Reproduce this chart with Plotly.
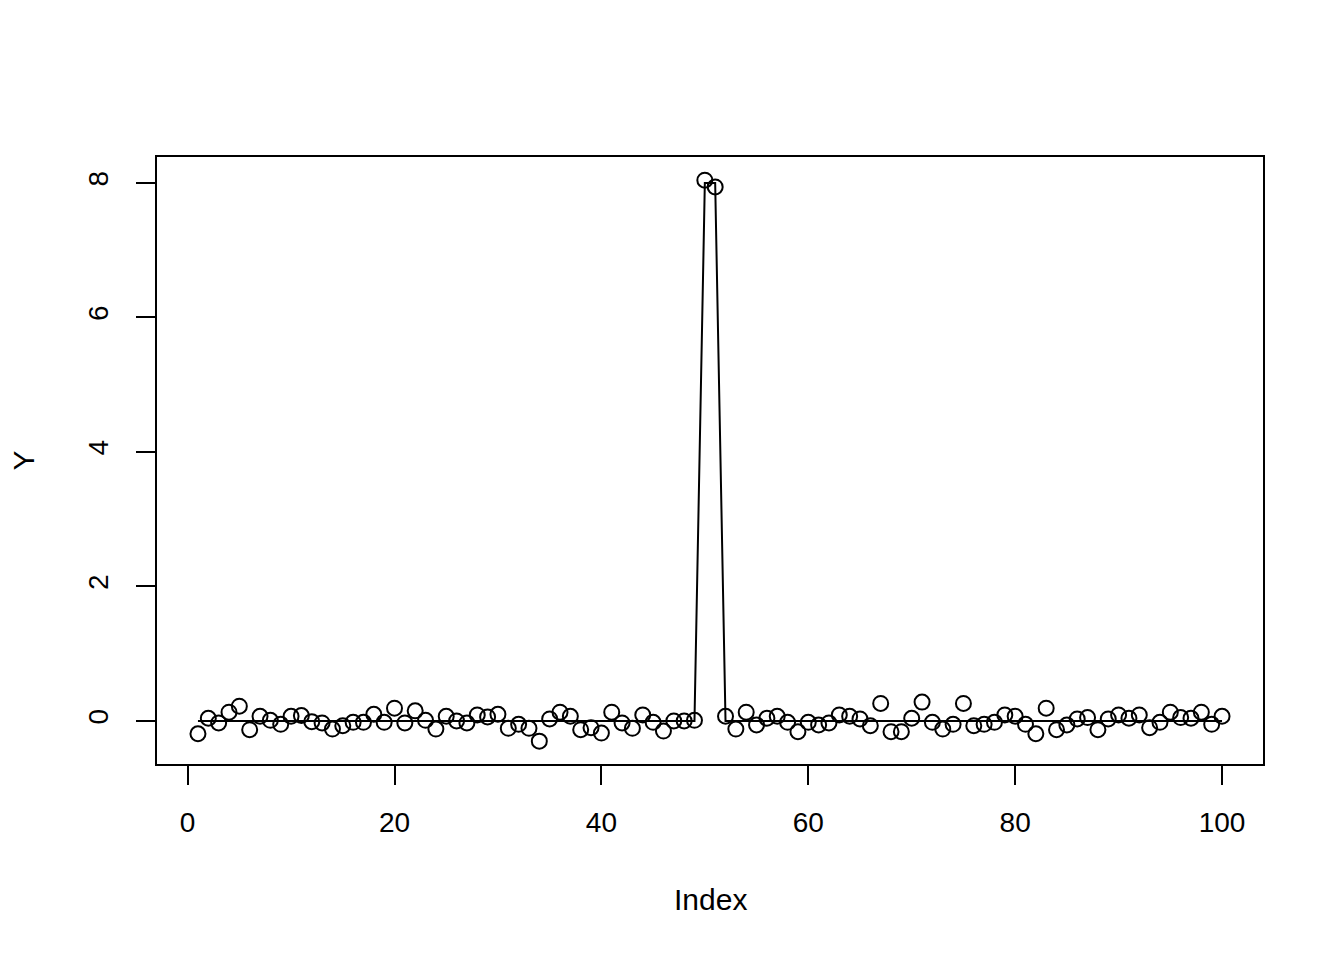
import plotly.graph_objects as go

index = list(range(1, 101))
y_obs = [
    -0.19, 0.04, -0.03, 0.13, 0.22, -0.13, 0.07, 0.01, -0.05, 0.07,
    0.08, -0.01, -0.03, -0.12, -0.07, -0.02, -0.02, 0.10, -0.02, 0.19,
    -0.03, 0.15, 0.01, -0.12, 0.07, 0.00, -0.03, 0.09, 0.06, 0.10,
    -0.11, -0.05, -0.11, -0.30, 0.03, 0.13, 0.07, -0.13, -0.10, -0.18,
    0.13, -0.03, -0.11, 0.09, -0.02, -0.15, 0.00, 0.00, 0.01, 8.04,
    7.94, 0.07, -0.12, 0.13, -0.06, 0.04, 0.07, -0.02, -0.16, -0.02,
    -0.06, -0.03, 0.09, 0.07, 0.03, -0.07, 0.26, -0.16, -0.16, 0.04,
    0.28, -0.02, -0.12, -0.05, 0.26, -0.07, -0.05, -0.02, 0.09, 0.07,
    -0.05, -0.19, 0.19, -0.13, -0.06, 0.03, 0.05, -0.13, 0.03, 0.09,
    0.04, 0.09, -0.10, -0.02, 0.13, 0.05, 0.04, 0.13, -0.05, 0.07,
]
# fitted line: flat at zero except the two spike points
y_fit = [0.0] * 49 + [8.0, 8.0] + [0.0] * 49

x_ticks = [0, 20, 40, 60, 80, 100]
y_ticks = [0, 2, 4, 6, 8]

FONT = "Liberation Sans, Arial, Helvetica, sans-serif"

fig = go.Figure()
fig.add_trace(go.Scatter(
    x=index, y=y_fit, mode="lines",
    line=dict(color="black", width=2),
    showlegend=False, hoverinfo="skip",
))
fig.add_trace(go.Scatter(
    x=index, y=y_obs, mode="markers",
    marker=dict(symbol="circle-open", size=15, color="black",
                line=dict(color="black", width=2)),
    showlegend=False,
))

axis_common = dict(
    showgrid=False, zeroline=False,
    showline=True, mirror=True, linecolor="black", linewidth=1.8,
    ticks="outside", ticklen=19, tickwidth=1.8, tickcolor="black",
    tickfont=dict(family=FONT, size=28, color="black"),
)

# page body has an 8px margin, so the plot box is shifted to compensate
fig.update_layout(
    width=1344, height=960,
    margin=dict(l=149, r=89, t=149, b=204),
    paper_bgcolor="white", plot_bgcolor="white",
    font=dict(family=FONT, size=28, color="black"),
    xaxis=dict(range=[-2.96, 103.96], tickvals=x_ticks,
               ticklabelstandoff=13, **axis_common),
    yaxis=dict(range=[-0.64, 8.385], tickvals=y_ticks, tickangle=-90,
               ticklabelstandoff=17, **axis_common),
    annotations=[
        dict(text="Index", xref="paper", yref="paper", x=0.5, y=0,
             yshift=-135, showarrow=False, xanchor="center", yanchor="middle",
             font=dict(family=FONT, size=30, color="black")),
        dict(text="Y", xref="paper", yref="paper", x=0, y=0.5,
             xshift=-134, showarrow=False, textangle=-90,
             xanchor="center", yanchor="middle",
             font=dict(family=FONT, size=30, color="black")),
    ],
)

fig.write_html("out.html")
